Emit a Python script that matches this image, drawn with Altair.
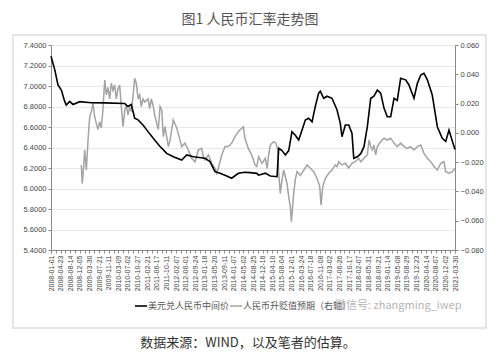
import altair as alt
import pandas as pd

x_labels = ["2008-01-01", "2008-04-23", "2008-08-14", "2008-12-05", "2009-03-30", "2009-07-21",
            "2009-11-11", "2010-03-09", "2010-07-02", "2010-10-27", "2011-02-21", "2011-06-17",
            "2011-10-11", "2012-02-07", "2012-06-01", "2012-09-24", "2013-01-18", "2013-05-20",
            "2013-09-11", "2014-01-07", "2014-05-02", "2014-08-25", "2014-12-16", "2015-04-10",
            "2015-08-04", "2015-12-01", "2016-03-24", "2016-07-18", "2016-11-08", "2017-03-02",
            "2017-06-26", "2017-10-17", "2018-02-07", "2018-05-31", "2018-09-21", "2019-01-14",
            "2019-05-08", "2019-08-29", "2019-12-23", "2020-04-14", "2020-08-07", "2020-12-02",
            "2021-03-30"]

# trading-day index and USD/CNY central parity (left axis)
cny_day = [0, 31, 58, 86, 114, 127, 155, 183, 239, 335, 447, 613, 640, 668, 696, 724, 765, 807,
           862, 907, 962, 1017, 1087, 1129, 1184, 1281, 1322, 1364, 1406, 1461, 1503, 1558, 1613,
           1655, 1711, 1727, 1782, 1824, 1880, 1894, 1921, 1949, 1977, 2004, 2032, 2060, 2088,
           2115, 2143, 2171, 2198, 2226, 2240, 2268, 2296, 2337, 2379, 2406, 2420, 2448, 2476,
           2503, 2518, 2548, 2576, 2603, 2631, 2659, 2686, 2714, 2742, 2770, 2797, 2825, 2853,
           2880, 2908, 2950, 2977, 3019, 3047, 3075, 3102, 3130, 3171, 3213, 3254, 3283, 3310,
           3338, 3360]
cny_rate = [7.29, 7.16, 7.01, 6.96, 6.85, 6.815, 6.85, 6.82, 6.847, 6.837, 6.835, 6.83, 6.80,
            6.82, 6.685, 6.67, 6.62, 6.555, 6.473, 6.41, 6.343, 6.31, 6.278, 6.327, 6.31, 6.295,
            6.262, 6.164, 6.148, 6.122, 6.10, 6.148, 6.158, 6.155, 6.148, 6.13, 6.15, 6.122,
            6.115, 6.392, 6.37, 6.327, 6.37, 6.555, 6.52, 6.473, 6.57, 6.668, 6.685, 6.65, 6.80,
            6.93, 6.95, 6.88, 6.90, 6.88, 6.766, 6.636, 6.505, 6.62, 6.62, 6.54, 6.295, 6.31,
            6.34, 6.408, 6.603, 6.88, 6.90, 6.96, 6.93, 6.782, 6.70, 6.70, 6.88, 6.86, 7.075,
            7.06, 7.01, 6.88, 7.026, 7.107, 7.124, 7.06, 6.912, 6.603, 6.49, 6.46, 6.57, 6.46,
            6.38]

# trading-day index and RMB appreciation/depreciation expectation (right axis)
exp_day = [252, 260, 272, 280, 294, 308, 322, 335, 349, 363, 377, 391, 405, 418, 432, 447, 460,
           474, 488, 502, 516, 530, 543, 557, 571, 585, 599, 613, 626, 640, 654, 668, 682, 696,
           710, 724, 738, 751, 765, 779, 807, 821, 834, 851, 862, 879, 892, 907, 921, 934, 948,
           962, 976, 990, 1017, 1045, 1073, 1087, 1114, 1142, 1170, 1198, 1225, 1253, 1267, 1281,
           1309, 1337, 1364, 1378, 1392, 1420, 1447, 1475, 1503, 1530, 1558, 1586, 1600, 1613,
           1641, 1669, 1697, 1711, 1727, 1755, 1782, 1797, 1810, 1824, 1852, 1871, 1885, 1894,
           1907, 1921, 1935, 1949, 1963, 1977, 1990, 1999, 2010, 2018, 2032, 2046, 2074, 2102,
           2129, 2157, 2185, 2212, 2235, 2246, 2260, 2282, 2310, 2337, 2365, 2379, 2393, 2420,
           2448, 2476, 2503, 2531, 2559, 2576, 2603, 2631, 2645, 2659, 2673, 2686, 2700, 2714,
           2742, 2770, 2797, 2825, 2853, 2880, 2908, 2936, 2964, 2991, 3019, 3047, 3075, 3102,
           3130, 3158, 3185, 3213, 3241, 3268, 3283, 3310, 3338, 3360]
exp_val = [-0.022, -0.0345, -0.023, -0.0117, -0.0254, -0.0049, 0.011, 0.0145, 0.0202, 0.011,
           0.0065, 0.0024, 0.0076, 0.0035, 0.0156, 0.0361, 0.0259, 0.031, 0.0232, 0.034, 0.029,
           0.0327, 0.0232, 0.03, 0.0327, 0.0179, 0.0042, 0.015, 0.019, 0.0123, 0.0179, 0.0145,
           0.0247, 0.0373, 0.0337, 0.0232, 0.026, 0.0179, 0.0232, 0.021, 0.0232, 0.0165, 0.0232,
           0.018, 0.0122, 0.0065, 0.0024, 0.018, 0.0156, -0.0026, 0.0042, -0.0026, -0.0094,
           -0.0049, 0.0088, 0.0035, -0.005, -0.0094, -0.007, -0.0117, -0.0174, -0.0197, -0.0117,
           -0.0106, -0.0163, -0.0185, -0.015, -0.0208, -0.0242, -0.0276, -0.024, -0.0151,
           -0.0094, -0.0094, -0.007, -0.0026, 0.0008, 0.0031, 0.0042, -0.0037, -0.0106, -0.015,
           -0.0219, -0.023, -0.0163, -0.0208, -0.0174, -0.0242, -0.015, -0.0083, -0.006, -0.007,
           -0.0117, -0.0276, -0.0413, -0.0321, -0.0254, -0.03, -0.0345, -0.0436, -0.0504,
           -0.0607, -0.05, -0.0413, -0.032, -0.0265, -0.029, -0.0254, -0.0219, -0.0242, -0.0265,
           -0.031, -0.0367, -0.0493, -0.0367, -0.031, -0.0276, -0.0254, -0.0219, -0.023, -0.0197,
           -0.0219, -0.0208, -0.024, -0.0208, -0.0197, -0.0174, -0.0197, -0.0174, -0.0151,
           -0.0049, -0.0094, -0.0117, -0.0083, -0.015, -0.0094, -0.006, -0.0037, -0.0049,
           -0.0037, -0.007, -0.0094, -0.007, -0.0094, -0.0106, -0.0094, -0.0117, -0.0094,
           -0.0083, -0.014, -0.0174, -0.0197, -0.023, -0.0254, -0.0208, -0.0197, -0.0265,
           -0.0276, -0.0265, -0.0242]

left_ticks = [round(5.4 + 0.2 * i, 1) for i in range(11)]
right_ticks = [round(-0.08 + 0.02 * i, 2) for i in range(8)]

title_text = "图1 人民币汇率走势图"
caption_text = "数据来源：WIND，以及笔者的估算。"
legend_a = "美元兑人民币中间价"
legend_b = "人民币升贬值预期（右轴）"
watermark = "微信号: zhangming_iwep"

cny = pd.DataFrame({"day": cny_day, "rate": cny_rate})
exp = pd.DataFrame({"day": exp_day, "exp": exp_val})

NUM_FONT = "Liberation Sans"
CJK_FONT = "Noto Sans CJK SC"

label_js = "[" + ",".join("'%s'" % s for s in x_labels) + "]"
x_enc = alt.X(
    "day:Q",
    scale=alt.Scale(domain=[0, 3360], nice=False, zero=False),
    axis=alt.Axis(
        values=list(range(0, 3361, 40)),
        labelExpr="datum.value % 80 == 0 ? " + label_js + "[datum.value / 80] : ''",
        labelAngle=270, labelFontSize=7, labelColor="#444", labelFont=NUM_FONT,
        labelOverlap=False, labelFlush=False, labelPadding=2,
        tickSize=3, tickColor="#888", domainColor="#888", grid=False, title=None,
    ),
)

black = alt.Chart(cny).mark_line(color="#000000", strokeWidth=1.6).encode(
    x=x_enc,
    y=alt.Y("rate:Q", scale=alt.Scale(domain=[5.4, 7.4], nice=False, zero=False),
            axis=alt.Axis(orient="left", values=left_ticks, format=".4f", labelFontSize=7.5,
                          labelColor="#444", labelFont=NUM_FONT, tickSize=3, tickColor="#888",
                          domainColor="#888", grid=True, gridColor="#e8e8e8", title=None)),
)

gray = alt.Chart(exp).mark_line(color="#a3a3a3", strokeWidth=1.5).encode(
    x=x_enc,
    y=alt.Y("exp:Q", scale=alt.Scale(domain=[-0.08, 0.06], nice=False, zero=False),
            axis=alt.Axis(orient="right", values=right_ticks, format=".3f", labelFontSize=7.5,
                          labelColor="#444", labelFont=NUM_FONT, tickSize=3, tickColor="#888",
                          domainColor="#888", grid=False, title=None)),
)

one = pd.DataFrame({"k": [0]})
frame = alt.Chart(one).mark_rect(fillOpacity=0, stroke="#dedede", strokeWidth=1.5).encode(
    x=alt.value(-38), x2=alt.value(435), y=alt.value(-10), y2=alt.value(283)
)


def text_layer(txt, x, y, size, color, font, align="center", weight="normal"):
    return alt.Chart(pd.DataFrame({"t": [txt]})).mark_text(
        fontSize=size, color=color, font=font, align=align, baseline="middle", fontWeight=weight
    ).encode(text="t:N", x=alt.value(x), y=alt.value(y))


title = text_layer(title_text, 199, -25, 14, "#555", CJK_FONT)
caption = text_layer(caption_text, 197, 298, 13, "#333", CJK_FONT)
leg_a = text_layer(legend_a, 97, 261, 9, "#555", CJK_FONT, align="left")
leg_b = text_layer(legend_b, 192, 261, 9, "#555", CJK_FONT, align="left")
wm = text_layer(watermark, 284, 261, 11, "#b5b5b5", CJK_FONT, align="left")

leg_line_a = alt.Chart(one).mark_rule(color="#000", strokeWidth=1.6).encode(
    x=alt.value(84), x2=alt.value(96), y=alt.value(261))
leg_line_b = alt.Chart(one).mark_rule(color="#a3a3a3", strokeWidth=1.5).encode(
    x=alt.value(179), x2=alt.value(191), y=alt.value(261))

chart = alt.layer(
    frame, gray, black, title, caption, leg_line_a, leg_a, leg_line_b, leg_b, wm
).resolve_scale(y="independent").properties(
    width=404, height=205,
    padding={"left": 51, "top": 45, "right": 45, "bottom": 106},
    autosize=alt.AutoSizeParams(type="none"),
    background="white",
).configure_view(stroke=None)

chart.save("out.html", embed_options={"renderer": "svg", "actions": False})
